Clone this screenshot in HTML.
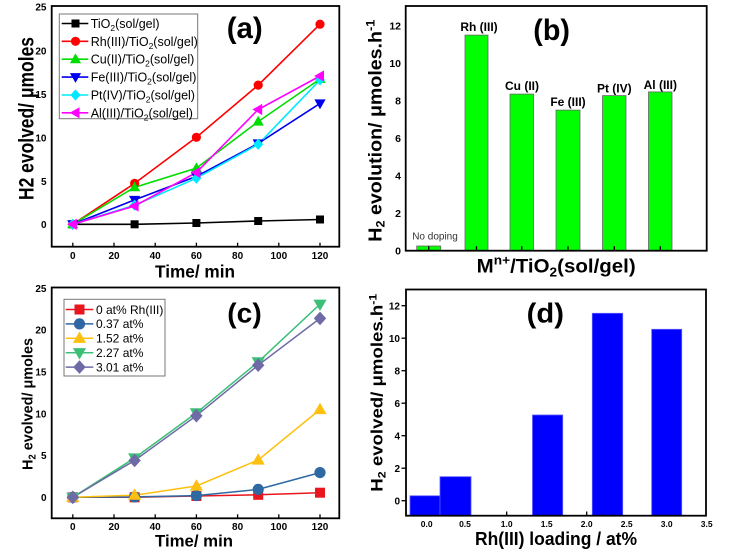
<!DOCTYPE html>
<html><head><meta charset="utf-8"><style>
html,body{margin:0;padding:0;background:#fff;}
svg{display:block;}
text{font-family:"Liberation Sans",Arial,sans-serif;}
.b{font-weight:bold;}
</style></head><body>
<svg width="730" height="553" viewBox="0 0 730 553" xmlns="http://www.w3.org/2000/svg">
<defs>
<rect id="sqA" x="-4" y="-4" width="8" height="8"/>
<circle id="ciA" r="4.6"/>
<polygon id="tuA" points="0,-5.8 5.6,4 -5.6,4"/>
<polygon id="tdA" points="-5.6,-4 5.6,-4 0,5.8"/>
<polygon id="dmA" points="0,-5.6 5,0 0,5.6 -5,0"/>
<polygon id="tlA" points="-5.8,0 4,-5.6 4,5.6"/>
<rect id="sqC" x="-5" y="-5" width="10" height="10"/>
<circle id="ciC" r="5.6"/>
<polygon id="tuC" points="0,-6.8 6.6,4.6 -6.6,4.6"/>
<polygon id="tdC" points="-6.6,-4.6 6.6,-4.6 0,6.8"/>
<polygon id="dmC" points="0,-6.8 6.2,0 0,6.8 -6.2,0"/>
</defs>
<rect width="730" height="553" fill="#fff"/>

<!-- ============ PANEL A ============ -->
<g stroke="#000" stroke-width="1.3">
<line x1="72.8" y1="246.7" x2="72.8" y2="242.7"/><line x1="114" y1="246.7" x2="114" y2="242.7"/>
<line x1="155.2" y1="246.7" x2="155.2" y2="242.7"/><line x1="196.4" y1="246.7" x2="196.4" y2="242.7"/>
<line x1="237.6" y1="246.7" x2="237.6" y2="242.7"/><line x1="278.8" y1="246.7" x2="278.8" y2="242.7"/>
<line x1="320" y1="246.7" x2="320" y2="242.7"/>
</g>
<g fill="none" stroke-width="1.6">
<polyline stroke="#000" points="72.8,224.3 134.6,224.3 196.4,223 258.2,221 320,219.5"/>
<polyline stroke="#ff0000" points="72.8,224.3 134.6,183.4 196.4,137.3 258.2,85.1 320,24.2"/>
<polyline stroke="#00dd00" points="72.8,224.3 134.6,187.3 196.4,168.2 258.2,121.6 320,79"/>
<polyline stroke="#0000ee" points="72.8,224.3 134.6,199.9 196.4,176.4 258.2,143.4 320,103.4"/>
<polyline stroke="#00e8ff" points="72.8,224.3 134.6,205.2 196.4,178.2 258.2,144.3 320,79.9"/>
<polyline stroke="#ff00ff" points="72.8,224.3 134.6,206 196.4,172.5 258.2,109.5 320,76"/>
</g>
<g fill="#000"><use href="#sqA" x="72.8" y="224.3"/><use href="#sqA" x="134.6" y="224.3"/><use href="#sqA" x="196.4" y="223"/><use href="#sqA" x="258.2" y="221"/><use href="#sqA" x="320" y="219.5"/></g>
<g fill="#ff0000"><use href="#ciA" x="72.8" y="224.3"/><use href="#ciA" x="134.6" y="183.4"/><use href="#ciA" x="196.4" y="137.3"/><use href="#ciA" x="258.2" y="85.1"/><use href="#ciA" x="320" y="24.2"/></g>
<g fill="#00dd00"><use href="#tuA" x="72.8" y="224.3"/><use href="#tuA" x="134.6" y="187.3"/><use href="#tuA" x="196.4" y="168.2"/><use href="#tuA" x="258.2" y="121.6"/><use href="#tuA" x="320" y="79"/></g>
<g fill="#0000ee"><use href="#tdA" x="72.8" y="224.3"/><use href="#tdA" x="134.6" y="199.9"/><use href="#tdA" x="196.4" y="176.4"/><use href="#tdA" x="258.2" y="143.4"/><use href="#tdA" x="320" y="103.4"/></g>
<g fill="#00e8ff"><use href="#dmA" x="72.8" y="224.3"/><use href="#dmA" x="134.6" y="205.2"/><use href="#dmA" x="196.4" y="178.2"/><use href="#dmA" x="258.2" y="144.3"/><use href="#dmA" x="320" y="79.9"/></g>
<g fill="#ff00ff"><use href="#tlA" x="72.8" y="224.3"/><use href="#tlA" x="134.6" y="206"/><use href="#tlA" x="196.4" y="172.5"/><use href="#tlA" x="258.2" y="109.5"/><use href="#tlA" x="320" y="76"/></g>
<rect x="51.7" y="6" width="287.6" height="240.7" fill="none" stroke="#000" stroke-width="1.8"/>
<!-- legend a -->
<rect x="59.3" y="14" width="138.4" height="104.7" fill="#fff" stroke="#777" stroke-width="1"/>
<g stroke-width="1.6">
<line x1="61.7" y1="23.5" x2="88.3" y2="23.5" stroke="#000"/>
<line x1="61.7" y1="41.3" x2="88.3" y2="41.3" stroke="#ff0000"/>
<line x1="61.7" y1="59.2" x2="88.3" y2="59.2" stroke="#00dd00"/>
<line x1="61.7" y1="77.1" x2="88.3" y2="77.1" stroke="#0000ee"/>
<line x1="61.7" y1="95" x2="88.3" y2="95" stroke="#00e8ff"/>
<line x1="61.7" y1="112.8" x2="88.3" y2="112.8" stroke="#ff00ff"/>
</g>
<use href="#sqA" x="75.5" y="23.5" fill="#000"/>
<use href="#ciA" x="75.5" y="41.3" fill="#ff0000"/>
<use href="#tuA" x="75.5" y="59.2" fill="#00dd00"/>
<use href="#tdA" x="75.5" y="77.1" fill="#0000ee"/>
<use href="#dmA" x="75.5" y="95" fill="#00e8ff"/>
<use href="#tlA" x="75.5" y="112.8" fill="#ff00ff"/>
<g font-size="12.5" fill="#000">
<text x="90.7" y="28">TiO<tspan font-size="8.5" dy="3">2</tspan><tspan dy="-3">(sol/gel)</tspan></text>
<text x="90.7" y="45.8">Rh(III)/TiO<tspan font-size="8.5" dy="3">2</tspan><tspan dy="-3">(sol/gel)</tspan></text>
<text x="90.7" y="63.7">Cu(II)/TiO<tspan font-size="8.5" dy="3">2</tspan><tspan dy="-3">(sol/gel)</tspan></text>
<text x="90.7" y="81.6">Fe(III)/TiO<tspan font-size="8.5" dy="3">2</tspan><tspan dy="-3">(sol/gel)</tspan></text>
<text x="90.7" y="99.5">Pt(IV)/TiO<tspan font-size="8.5" dy="3">2</tspan><tspan dy="-3">(sol/gel)</tspan></text>
<text x="90.7" y="117.3">Al(III)/TiO<tspan font-size="8.5" dy="3">2</tspan><tspan dy="-3">(sol/gel)</tspan></text>
</g>
<text class="b" x="226.7" y="38" font-size="30" textLength="36" lengthAdjust="spacingAndGlyphs">(a)</text>
<g class="b" font-size="10" text-anchor="end">
<text x="46.5" y="10.5">25</text><text x="46.5" y="54.5">20</text><text x="46.5" y="98">15</text>
<text x="46.5" y="141.5">10</text><text x="46.5" y="185">5</text><text x="46.5" y="228">0</text>
</g>
<g class="b" font-size="10" text-anchor="middle">
<text x="72.8" y="259">0</text><text x="114" y="259">20</text><text x="155.2" y="259">40</text>
<text x="196.4" y="259">60</text><text x="237.6" y="259">80</text><text x="278.8" y="259">100</text><text x="320" y="259">120</text>
</g>
<text class="b" x="155" y="277.7" font-size="17.5" textLength="80" lengthAdjust="spacingAndGlyphs">Time/ min</text>
<text class="b" transform="translate(33.3,200) rotate(-90)" x="0" y="0" font-size="21" textLength="163" lengthAdjust="spacingAndGlyphs">H2 evolved/ μmoles</text>

<!-- ============ PANEL B ============ -->
<g fill="#00ff00" stroke="#666" stroke-width="0.8">
<rect x="416.7" y="246" width="24" height="4.7"/>
<rect x="465" y="35.1" width="23" height="215.6"/>
<rect x="510" y="94.1" width="23.5" height="156.6"/>
<rect x="556" y="110.1" width="24" height="140.6"/>
<rect x="602.5" y="95.6" width="23.5" height="155.1"/>
<rect x="648.5" y="91.9" width="23.5" height="158.8"/>
</g>
<g stroke="#000" stroke-width="1.3">
<line x1="428.7" y1="250.7" x2="428.7" y2="246.2"/><line x1="476.5" y1="250.7" x2="476.5" y2="246.2"/>
<line x1="521.8" y1="250.7" x2="521.8" y2="246.2"/><line x1="568" y1="250.7" x2="568" y2="246.2"/>
<line x1="614.3" y1="250.7" x2="614.3" y2="246.2"/><line x1="660.3" y1="250.7" x2="660.3" y2="246.2"/>
</g>
<rect x="405.7" y="6" width="301" height="244.7" fill="none" stroke="#000" stroke-width="1.8"/>
<g class="b" font-size="12" text-anchor="middle">
<text x="479" y="31">Rh (III)</text>
<text x="522" y="90">Cu (II)</text>
<text x="568" y="106">Fe (III)</text>
<text x="614.3" y="92.5">Pt (IV)</text>
<text x="660.3" y="89">Al (III)</text>
</g>
<text x="435" y="239.5" font-size="10" fill="#333" text-anchor="middle">No doping</text>
<g class="b" font-size="10.5" text-anchor="end">
<text x="401" y="254.5">0</text><text x="401" y="217">2</text><text x="401" y="179.5">4</text>
<text x="401" y="142">6</text><text x="401" y="104.5">8</text><text x="401" y="67">10</text><text x="401" y="29.5">12</text>
</g>
<text class="b" transform="translate(381.7,241.7) rotate(-90)" x="0" y="0" font-size="18.5" textLength="222" lengthAdjust="spacingAndGlyphs">H<tspan font-size="12" dy="3">2</tspan><tspan dy="-3"> evolution/ μmoles.h</tspan><tspan font-size="12" dy="-7">-1</tspan></text>
<text class="b" x="476.7" y="272.3" font-size="19.5" textLength="159" lengthAdjust="spacingAndGlyphs">M<tspan font-size="13" dy="-8">n+</tspan><tspan dy="8">/TiO</tspan><tspan font-size="13" dy="4">2</tspan><tspan dy="-4">(sol/gel)</tspan></text>
<text class="b" x="533.3" y="40" font-size="30" textLength="36.7" lengthAdjust="spacingAndGlyphs">(b)</text>

<!-- ============ PANEL C ============ -->
<g stroke="#000" stroke-width="1.3">
<line x1="72.8" y1="518.3" x2="72.8" y2="514.3"/><line x1="114" y1="518.3" x2="114" y2="514.3"/>
<line x1="155.2" y1="518.3" x2="155.2" y2="514.3"/><line x1="196.4" y1="518.3" x2="196.4" y2="514.3"/>
<line x1="237.6" y1="518.3" x2="237.6" y2="514.3"/><line x1="278.8" y1="518.3" x2="278.8" y2="514.3"/>
<line x1="320" y1="518.3" x2="320" y2="514.3"/>
</g>
<g fill="none" stroke-width="1.5">
<polyline stroke="#e8161e" points="72.8,497.3 134.6,497.3 196.4,496 258.2,494.8 320,492.7"/>
<polyline stroke="#2e69a3" points="72.8,497.3 134.6,496.9 196.4,495.6 258.2,489.4 320,472.6"/>
<polyline stroke="#fdc010" points="72.8,497.3 134.6,495.2 196.4,486 258.2,460 320,409.5"/>
<polyline stroke="#3cbf78" points="72.8,497.3 134.6,458 196.4,412.9 258.2,361.9 320,304.2"/>
<polyline stroke="#6d6aa6" points="72.8,497.3 134.6,460.5 196.4,415.7 258.2,365.2 320,318.4"/>
</g>
<g fill="#e8161e"><use href="#sqC" x="72.8" y="497.3"/><use href="#sqC" x="134.6" y="497.3"/><use href="#sqC" x="196.4" y="496"/><use href="#sqC" x="258.2" y="494.8"/><use href="#sqC" x="320" y="492.7"/></g>
<g fill="#2e69a3"><use href="#ciC" x="72.8" y="497.3"/><use href="#ciC" x="134.6" y="496.9"/><use href="#ciC" x="196.4" y="495.6"/><use href="#ciC" x="258.2" y="489.4"/><use href="#ciC" x="320" y="472.6"/></g>
<g fill="#fdc010"><use href="#tuC" x="72.8" y="497.3"/><use href="#tuC" x="134.6" y="495.2"/><use href="#tuC" x="196.4" y="486"/><use href="#tuC" x="258.2" y="460"/><use href="#tuC" x="320" y="409.5"/></g>
<g fill="#3cbf78"><use href="#tdC" x="72.8" y="497.3"/><use href="#tdC" x="134.6" y="458"/><use href="#tdC" x="196.4" y="412.9"/><use href="#tdC" x="258.2" y="361.9"/><use href="#tdC" x="320" y="304.2"/></g>
<g fill="#6d6aa6"><use href="#dmC" x="72.8" y="497.3"/><use href="#dmC" x="134.6" y="460.5"/><use href="#dmC" x="196.4" y="415.7"/><use href="#dmC" x="258.2" y="365.2"/><use href="#dmC" x="320" y="318.4"/></g>
<rect x="51.7" y="287.5" width="287.6" height="230.8" fill="none" stroke="#000" stroke-width="1.8"/>
<!-- legend c -->
<rect x="64" y="299.3" width="101" height="76.7" fill="#fff" stroke="#777" stroke-width="1"/>
<g stroke-width="1.5">
<line x1="65.7" y1="309.5" x2="93.3" y2="309.5" stroke="#e8161e"/>
<line x1="65.7" y1="323.9" x2="93.3" y2="323.9" stroke="#2e69a3"/>
<line x1="65.7" y1="338.3" x2="93.3" y2="338.3" stroke="#fdc010"/>
<line x1="65.7" y1="352.7" x2="93.3" y2="352.7" stroke="#3cbf78"/>
<line x1="65.7" y1="367.1" x2="93.3" y2="367.1" stroke="#6d6aa6"/>
</g>
<use href="#sqC" x="79.5" y="309.5" fill="#e8161e"/>
<use href="#ciC" x="79.5" y="323.9" fill="#2e69a3"/>
<use href="#tuC" x="79.5" y="338.3" fill="#fdc010"/>
<use href="#tdC" x="79.5" y="352.7" fill="#3cbf78"/>
<use href="#dmC" x="79.5" y="367.1" fill="#6d6aa6"/>
<g font-size="12" fill="#000">
<text x="96" y="313.8">0 at% Rh(III)</text>
<text x="96" y="328.2">0.37 at%</text>
<text x="96" y="342.6">1.52 at%</text>
<text x="96" y="357">2.27 at%</text>
<text x="96" y="371.4">3.01 at%</text>
</g>
<text class="b" x="227.3" y="322.7" font-size="28" textLength="34.4" lengthAdjust="spacingAndGlyphs">(c)</text>
<g class="b" font-size="10" text-anchor="end">
<text x="46.5" y="292">25</text><text x="46.5" y="333.7">20</text><text x="46.5" y="375.5">15</text>
<text x="46.5" y="417.3">10</text><text x="46.5" y="459.1">5</text><text x="46.5" y="500.9">0</text>
</g>
<g class="b" font-size="10" text-anchor="middle">
<text x="72.8" y="530">0</text><text x="114" y="530">20</text><text x="155.2" y="530">40</text>
<text x="196.4" y="530">60</text><text x="237.6" y="530">80</text><text x="278.8" y="530">100</text><text x="320" y="530">120</text>
</g>
<text class="b" x="155" y="546.7" font-size="17" textLength="78" lengthAdjust="spacingAndGlyphs">Time/ min</text>
<text class="b" transform="translate(32.3,470) rotate(-90)" x="0" y="0" font-size="15" textLength="132" lengthAdjust="spacingAndGlyphs">H<tspan font-size="10" dy="3">2</tspan><tspan dy="-3"> evolved/ μmoles</tspan></text>

<!-- ============ PANEL D ============ -->
<g fill="#0000ff" stroke="#5a5aff" stroke-width="0.8">
<rect x="410" y="495.8" width="30" height="19.9"/>
<rect x="440" y="476.7" width="31" height="39"/>
<rect x="532.5" y="415" width="30.2" height="100.7"/>
<rect x="592.3" y="313.3" width="30.4" height="202.4"/>
<rect x="651.7" y="329.3" width="30" height="186.4"/>
</g>
<g stroke="#000" stroke-width="1.3">
<line x1="506.7" y1="515.7" x2="506.7" y2="511.5"/><line x1="586.7" y1="515.7" x2="586.7" y2="511.5"/>
<line x1="401.5" y1="500.7" x2="406" y2="500.7"/><line x1="401.5" y1="468.2" x2="406" y2="468.2"/>
<line x1="401.5" y1="435.7" x2="406" y2="435.7"/><line x1="401.5" y1="403.2" x2="406" y2="403.2"/>
<line x1="401.5" y1="370.7" x2="406" y2="370.7"/><line x1="401.5" y1="338.2" x2="406" y2="338.2"/>
<line x1="401.5" y1="305.7" x2="406" y2="305.7"/>
</g>
<rect x="406" y="289.5" width="300" height="226.2" fill="none" stroke="#000" stroke-width="1.8"/>
<g class="b" font-size="10" text-anchor="end">
<text x="400" y="504.3">0</text><text x="400" y="471.8">2</text><text x="400" y="439.3">4</text>
<text x="400" y="406.8">6</text><text x="400" y="374.3">8</text><text x="400" y="341.8">10</text><text x="400" y="309.3">12</text>
</g>
<g class="b" font-size="8.5" text-anchor="middle">
<text x="426.7" y="527">0.0</text><text x="465" y="527">0.5</text><text x="506.7" y="527">1.0</text>
<text x="546.7" y="527">1.5</text><text x="586.7" y="527">2.0</text><text x="626.7" y="527">2.5</text>
<text x="666.7" y="527">3.0</text><text x="706.7" y="527">3.5</text>
</g>
<text class="b" x="475" y="545" font-size="18" textLength="162" lengthAdjust="spacingAndGlyphs">Rh(III) loading / at%</text>
<text class="b" transform="translate(382.7,491.7) rotate(-90)" x="0" y="0" font-size="16.5" textLength="198" lengthAdjust="spacingAndGlyphs">H<tspan font-size="11" dy="3">2</tspan><tspan dy="-3"> evolved/ μmoles.h</tspan><tspan font-size="11" dy="-6">-1</tspan></text>
<text class="b" x="526.7" y="322.7" font-size="28" textLength="37.3" lengthAdjust="spacingAndGlyphs">(d)</text>
</svg>
</body></html>
